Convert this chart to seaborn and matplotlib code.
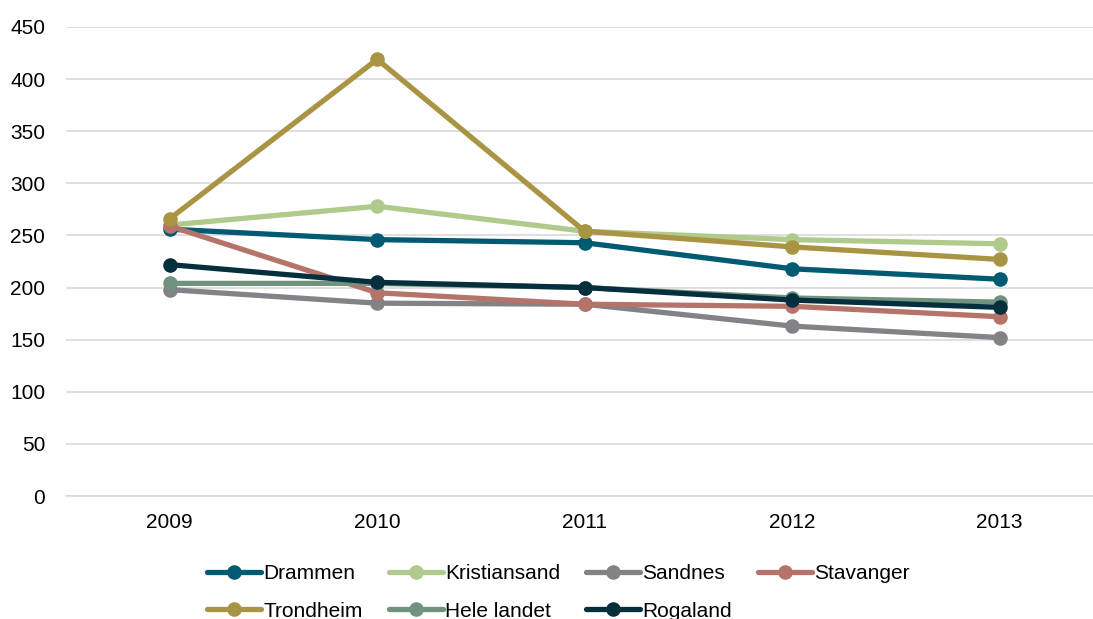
import matplotlib
matplotlib.use("Agg")
import matplotlib.pyplot as plt
import seaborn as sns
import pandas as pd

years = ["2009", "2010", "2011", "2012", "2013"]
drammen = [256, 246, 243, 218, 208]
kristiansand = [260, 278, 254, 246, 242]
sandnes = [198, 185, 184, 163, 152]
stavanger = [259, 195, 184, 182, 172]
trondheim = [266, 419, 254, 239, 227]
hele_landet = [204, 204, 200, 190, 186]
rogaland = [222, 205, 200, 188, 181]

series = [
    ("Drammen", drammen, "#005a72"),
    ("Kristiansand", kristiansand, "#afca8b"),
    ("Sandnes", sandnes, "#828287"),
    ("Stavanger", stavanger, "#b5736a"),
    ("Trondheim", trondheim, "#a99443"),
    ("Hele landet", hele_landet, "#70927f"),
    ("Rogaland", rogaland, "#062f3d"),
]

sns.set_theme(style="white")
plt.rcParams["font.family"] = ["Liberation Sans", "DejaVu Sans"]

fig = plt.figure(figsize=(10.93, 6.19), dpi=100)
ax = fig.add_axes([66 / 1093, 1 - 496 / 619, 1 - 66 / 1093, (496 - 27) / 619])

handles = {}
for name, vals, col in series:
    df = pd.DataFrame({"x": range(len(years)), "y": vals})
    sns.lineplot(data=df, x="x", y="y", ax=ax, color=col, linewidth=3.8,
                 marker="o", markersize=10.5, markeredgewidth=0, label=name,
                 legend=False)
    handles[name] = ax.lines[-1]

ax.set_xlim(-0.5, 4.45)
ax.set_ylim(0, 450)
ax.set_yticks(range(0, 451, 50))
ax.set_xticks(range(len(years)))
ax.set_xticklabels(years)
ax.set_xlabel("")
ax.set_ylabel("")
ax.yaxis.grid(True, color="#d9d9d9", linewidth=1.2)
ax.set_axisbelow(True)
for s in ["top", "right", "left"]:
    ax.spines[s].set_visible(False)
ax.spines["bottom"].set_color("#d9d9d9")
ax.spines["bottom"].set_linewidth(1.2)
ax.tick_params(axis="both", length=0, labelsize=15, colors="#000000")
ax.tick_params(axis="y", pad=15)
ax.tick_params(axis="x", pad=12)

order = ["Drammen", "Trondheim", "Kristiansand", "Hele landet", "Sandnes", "Rogaland", "Stavanger"]
fig.legend([handles[n] for n in order], order, loc="lower center",
           bbox_to_anchor=(0.511, -0.016), ncol=4, frameon=False, fontsize=15,
           labelcolor="#000000", borderaxespad=0, borderpad=0.4,
           handlelength=2.6, handletextpad=0.1, columnspacing=1.25, labelspacing=0.9)

fig.savefig("out.png", dpi=100)
